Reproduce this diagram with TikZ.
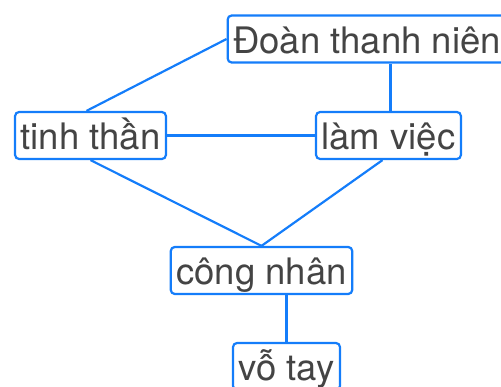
\documentclass[tikz,border=0pt]{standalone}
\usepackage{fontspec}
\setmainfont{TeX Gyre Heros}
\usetikzlibrary{calc}
\definecolor{boxblue}{RGB}{20,125,250}
\definecolor{txtgray}{RGB}{68,68,68}

\begin{document}
\begin{tikzpicture}[x=1pt, y=-1pt,
	wordbox/.style={draw=boxblue, line width=2.2pt, rounded corners=4pt, fill=white,
		text=txtgray, font=\fontsize{36.5}{42}\selectfont,
		inner xsep=5.5pt, inner ysep=6pt, text height=32pt, text depth=3pt},
	link/.style={boxblue, line width=2.2pt}]
	\useasboundingbox (0,0) rectangle (501,387);
	\node[wordbox] (doan) at (367,39) {Đoàn thanh niên};
	\node[wordbox] (tinh) at (90.5,135.5) {tinh thần};
	\node[wordbox] (lam) at (388.5,135.5) {làm việc};
	\node[wordbox] (cong) at (261.5,270.5) {công nhân};
	\node[wordbox] (vo) at (286.5,366.5) {vỗ tay};
	\draw[link] (doan.west) -- ($(tinh.north)+(-4,0)$);
	\draw[link] ($(lam.north)+(2,0)$) -- ($(lam.north |- doan.south)+(2,0)$);
	\draw[link] (tinh.east) -- (lam.west);
	\draw[link] (tinh.south) -- (cong.north);
	\draw[link] ($(lam.south)+(-6,0)$) -- (cong.north);
	\draw[link] (vo.north) -- (vo.north |- cong.south);
\end{tikzpicture}
\end{document}
